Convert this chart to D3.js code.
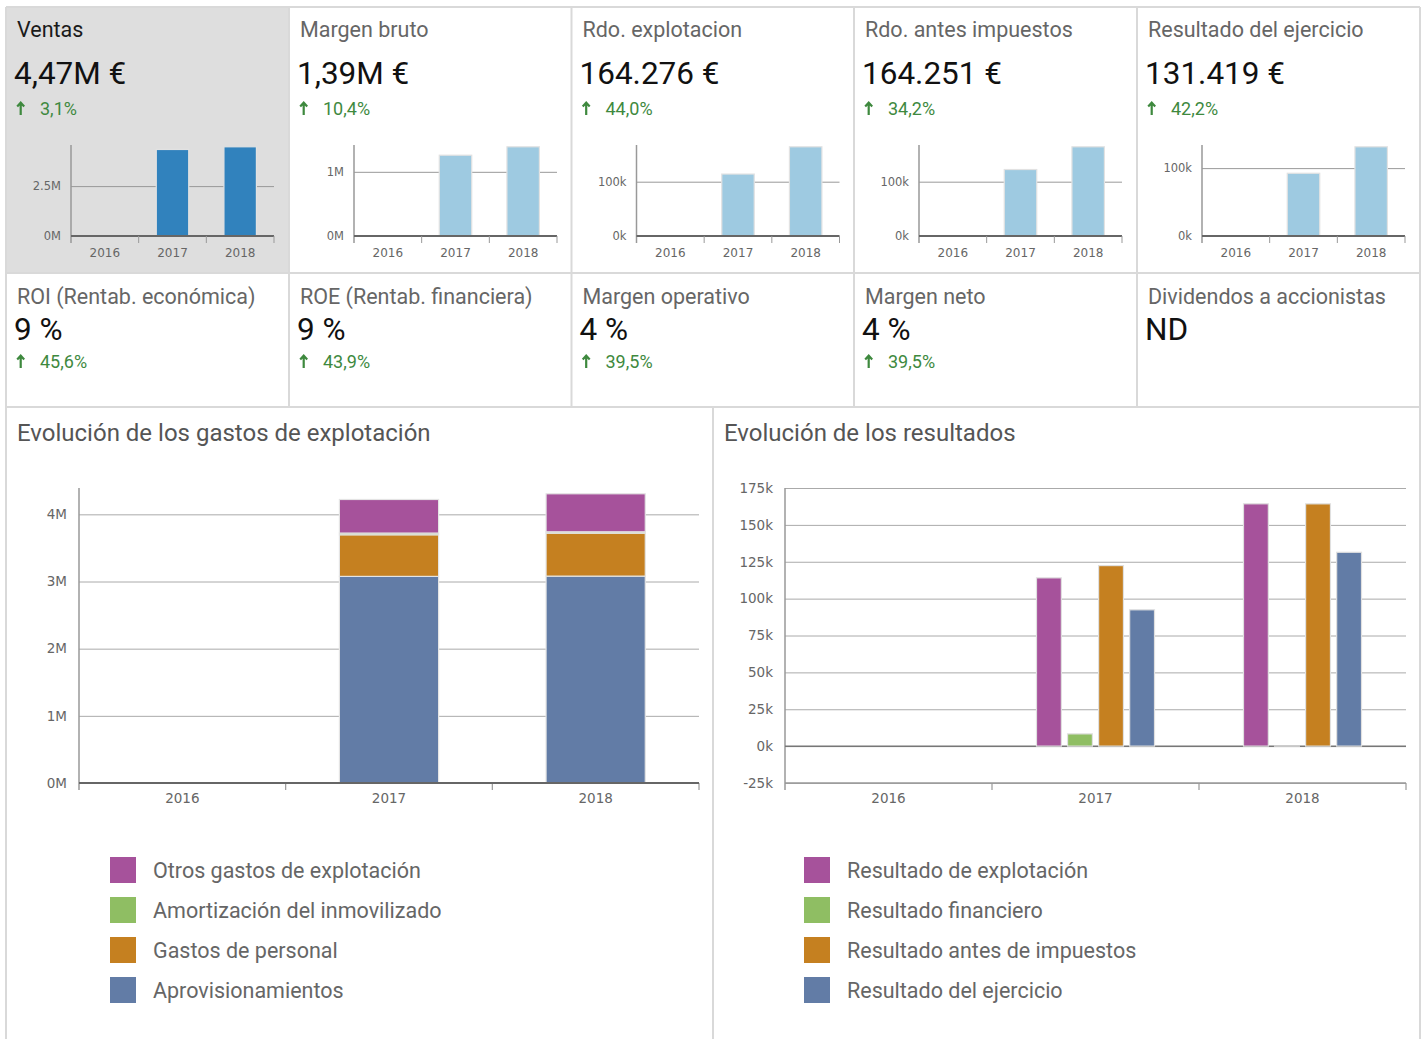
<!DOCTYPE html>
<html><head><meta charset="utf-8">
<script src="https://cdn.jsdelivr.net/npm/d3@7"></script>
<style>
html,body{margin:0;padding:0;background:#fff;}
svg{display:block;}
</style></head><body>
<svg id="c" width="1423" height="1039"></svg>
<script>
// ---------- DATA ----------
const years = ["2016", "2017", "2018"];

// KPI row 1 (with mini charts)
const kpiTitles1 = ["Ventas", "Margen bruto", "Rdo. explotacion", "Rdo. antes impuestos", "Resultado del ejercicio"];
const kpiValues1 = ["4,47M €", "1,39M €", "164.276 €", "164.251 €", "131.419 €"];
const kpiChanges1 = ["3,1%", "10,4%", "44,0%", "34,2%", "42,2%"];
const ventasSerie = [0, 4335000, 4470000];
const margenBrutoSerie = [0, 1259000, 1390000];
const rdoExplotacionSerie = [0, 114080, 164276];
const rdoAntesImpuestosSerie = [0, 122390, 164251];
const resultadoEjercicioSerie = [0, 92420, 131419];
const miniSeries = [ventasSerie, margenBrutoSerie, rdoExplotacionSerie, rdoAntesImpuestosSerie, resultadoEjercicioSerie];
const miniTickValues = [[0, 2500000], [0, 1000000], [0, 100000], [0, 100000], [0, 100000]];
const miniTickLabels = [["0M", "2.5M"], ["0M", "1M"], ["0k", "100k"], ["0k", "100k"], ["0k", "100k"]];

// KPI row 2
const kpiTitles2 = ["ROI (Rentab. económica)", "ROE (Rentab. financiera)", "Margen operativo", "Margen neto", "Dividendos a accionistas"];
const kpiValues2 = ["9 %", "9 %", "4 %", "4 %", "ND"];
const kpiChanges2 = ["45,6%", "43,9%", "39,5%", "39,5%", null];

// Gastos de explotación (stacked)
const gastosSeries = ["Aprovisionamientos", "Gastos de personal", "Amortización del inmovilizado", "Otros gastos de explotación"];
const aprovisionamientos = [0, 3076000, 3080000];
const gastosPersonal = [0, 620000, 640000];
const amortizacion = [0, 25000, 20000];
const otrosGastos = [0, 500000, 566000];
const gastosTickValues = [0, 1000000, 2000000, 3000000, 4000000];
const gastosTickLabels = ["0M", "1M", "2M", "3M", "4M"];

// Resultados (grouped)
const resultadosSeries = ["Resultado de explotación", "Resultado financiero", "Resultado antes de impuestos", "Resultado del ejercicio"];
const resultadoExplotacion = [0, 114080, 164276];
const resultadoFinanciero = [0, 8300, -25];
const resultadoAntesImpuestos = [0, 122390, 164251];
const resultadoEjercicio = [0, 92420, 131419];
const resultadosTickValues = [-25000, 0, 25000, 50000, 75000, 100000, 125000, 150000, 175000];
const resultadosTickLabels = ["-25k", "0k", "25k", "50k", "75k", "100k", "125k", "150k", "175k"];

// ---------- STYLE ----------
const colors = { purple: "#a6529b", green: "#8fbe63", orange: "#c58020", blue: "#627ca6" };
const gastosColors = [colors.blue, colors.orange, colors.green, colors.purple];
const resColors = [colors.purple, colors.green, colors.orange, colors.blue];
const FONT = "Roboto, 'Noto Sans', sans-serif";
const AXFONT = "'DejaVu Sans', sans-serif";
const borderCol = "#d9d9d9";
const GREEN = "#3e893e";

const svg = d3.select("#c");
const colX = [6, 289, 571.5, 854, 1137, 1420];
const rowY = [7, 273, 407];

// ---------- CARDS ----------
svg.append("rect").attr("x", colX[0]).attr("y", rowY[0]).attr("width", colX[1] - colX[0]).attr("height", rowY[1] - rowY[0]).attr("fill", "#dedede");

function drawChange(g, x, y, txt) {
  // arrow glyph
  g.append("path")
    .attr("d", `M${x + 3.7},${y} L${x + 3.7},${y - 12.5} M${x + 0.2},${y - 8.6} L${x + 3.7},${y - 12.3} L${x + 7.2},${y - 8.6}`)
    .attr("fill", "none").attr("stroke", GREEN).attr("stroke-width", 2.2).attr("stroke-linecap", "butt");
  g.append("text").attr("x", x + 23).attr("y", y).attr("font-family", FONT).attr("font-size", 18).attr("fill", GREEN).text(txt);
}

for (let i = 0; i < 5; i++) {
  const L = colX[i];
  const g = svg.append("g");
  g.append("text").attr("x", L + 11).attr("y", 37).attr("font-family", FONT).attr("font-size", 21.5)
    .attr("fill", i === 0 ? "#1a1a1a" : "#666").text(kpiTitles1[i]);
  g.append("text").attr("x", L + 8).attr("y", 84).attr("font-family", FONT).attr("font-size", 31.5)
    .attr("fill", "#111").text(kpiValues1[i]);
  drawChange(g, L + 11, 115, kpiChanges1[i]);

  // mini chart
  const data = miniSeries[i];
  const x = d3.scaleBand().domain(years).range([L + 65, L + 268]).paddingInner(0.52).paddingOuter(0.26);
  const y = d3.scaleLinear().domain([0, d3.max(data) * 1.02]).range([236, 145]);
  const x0 = L + 65, x1 = L + 268;
  const ax = g.append("g").attr("transform", `translate(${x0},0)`)
    .call(d3.axisLeft(y).tickValues(miniTickValues[i]).tickFormat((d, k) => miniTickLabels[i][k]).tickSize(-(x1 - x0)).tickPadding(10));
  ax.select(".domain").remove();
  ax.selectAll(".tick line").attr("stroke", "#999").attr("stroke-width", 1);
  ax.selectAll(".tick text").attr("font-family", AXFONT).attr("font-size", 11.5).attr("fill", "#666");
  g.append("line").attr("x1", x0).attr("x2", x0).attr("y1", y.range()[1]).attr("y2", y(0) + 7).attr("stroke", "#999").attr("stroke-width", 1.5);
  g.selectAll("rect.b").data(data).join("rect").attr("class", "b")
    .attr("x", (d, k) => x(years[k])).attr("width", x.bandwidth())
    .attr("y", d => y(Math.max(0, d))).attr("height", d => Math.abs(y(d) - y(0)))
    .attr("fill", i === 0 ? "#3182bd" : "#9ecae1").attr("stroke", "#e2e2e2").attr("stroke-width", 1.2);
  g.append("line").attr("x1", x0).attr("x2", x1).attr("y1", y(0)).attr("y2", y(0)).attr("stroke", "#666").attr("stroke-width", 2);
  years.forEach((yr, k) => {
    g.append("line").attr("x1", x0 + x.step() * (k + 1)).attr("x2", x0 + x.step() * (k + 1)).attr("y1", y(0)).attr("y2", y(0) + 7).attr("stroke", "#999");
  });
  const xa = g.append("g").attr("transform", `translate(0,${y(0) + 6})`).call(d3.axisBottom(x).tickSize(0).tickPadding(6));
  xa.select(".domain").remove();
  xa.selectAll("text").attr("font-family", AXFONT).attr("font-size", 12).attr("fill", "#666");
}

for (let i = 0; i < 5; i++) {
  const L = colX[i];
  const g = svg.append("g");
  g.append("text").attr("x", L + 11).attr("y", 304).attr("font-family", FONT).attr("font-size", 21.5).attr("fill", "#666").text(kpiTitles2[i]);
  g.append("text").attr("x", L + 8).attr("y", 340).attr("font-family", FONT).attr("font-size", 31.5).attr("fill", "#111").text(kpiValues2[i]);
  if (kpiChanges2[i]) drawChange(g, L + 11, 368, kpiChanges2[i]);
}

// card borders
const bg = svg.append("g").attr("stroke", borderCol).attr("stroke-width", 2).attr("fill", "none");
bg.append("line").attr("x1", colX[0]).attr("x2", colX[5]).attr("y1", rowY[0]).attr("y2", rowY[0]);
bg.append("line").attr("x1", colX[0]).attr("x2", colX[5]).attr("y1", rowY[1]).attr("y2", rowY[1]);
bg.append("line").attr("x1", colX[0]).attr("x2", colX[5]).attr("y1", rowY[2]).attr("y2", rowY[2]);
colX.forEach(cx => bg.append("line").attr("x1", cx).attr("x2", cx).attr("y1", rowY[0]).attr("y2", rowY[2]));
[6, 713, 1420].forEach(cx => bg.append("line").attr("x1", cx).attr("x2", cx).attr("y1", rowY[2]).attr("y2", 1039));

// ---------- PANEL TITLES ----------
svg.append("text").attr("x", 17).attr("y", 441).attr("font-family", FONT).attr("font-size", 24).attr("fill", "#555").text("Evolución de los gastos de explotación");
svg.append("text").attr("x", 724).attr("y", 441).attr("font-family", FONT).attr("font-size", 24).attr("fill", "#555").text("Evolución de los resultados");

// ---------- helper for big axes ----------
function bigAxes(g, x, y, x0, x1, tickVals, tickLabels, baseY) {
  const ax = g.append("g").attr("transform", `translate(${x0},0)`)
    .call(d3.axisLeft(y).tickValues(tickVals).tickFormat((d, k) => tickLabels[k]).tickSize(-(x1 - x0)).tickPadding(12));
  ax.select(".domain").remove();
  ax.selectAll(".tick line").attr("stroke", "#aaa").attr("stroke-width", 1);
  ax.selectAll(".tick text").attr("font-family", AXFONT).attr("font-size", 13.5).attr("fill", "#666");
  g.append("line").attr("x1", x0).attr("x2", x0).attr("y1", y.range()[1]).attr("y2", baseY + 7).attr("stroke", "#999").attr("stroke-width", 1.5);
  g.append("line").attr("x1", x0).attr("x2", x1).attr("y1", baseY).attr("y2", baseY).attr("stroke", "#999").attr("stroke-width", 1.5);
  years.forEach((yr, k) => {
    g.append("line").attr("x1", x0 + x.step() * (k + 1)).attr("x2", x0 + x.step() * (k + 1)).attr("y1", baseY).attr("y2", baseY + 7).attr("stroke", "#999").attr("stroke-width", 1.2);
  });
  const xa = g.append("g").attr("transform", `translate(0,${baseY + 4})`).call(d3.axisBottom(x).tickSize(0).tickPadding(6));
  xa.select(".domain").remove();
  xa.selectAll("text").attr("font-family", AXFONT).attr("font-size", 13.5).attr("fill", "#666");
}

// ---------- STACKED CHART ----------
{
  const g = svg.append("g");
  const x0 = 79, x1 = 699;
  const rows = years.map((yr, k) => ({ year: yr, "Aprovisionamientos": aprovisionamientos[k], "Gastos de personal": gastosPersonal[k], "Amortización del inmovilizado": amortizacion[k], "Otros gastos de explotación": otrosGastos[k] }));
  const stack = d3.stack().keys(gastosSeries)(rows);
  const maxTot = d3.max(stack[stack.length - 1], d => d[1]);
  const x = d3.scaleBand().domain(years).range([x0, x1]).paddingInner(0.52).paddingOuter(0.26);
  const y = d3.scaleLinear().domain([0, maxTot * 1.02]).range([783, 488]);
  bigAxes(g, x, y, x0, x1, gastosTickValues, gastosTickLabels, 783);
  stack.forEach((layer, li) => {
    g.selectAll(null).data(layer).join("rect")
      .attr("x", d => x(d.data.year)).attr("width", x.bandwidth())
      .attr("y", d => y(d[1])).attr("height", d => y(d[0]) - y(d[1]))
      .attr("fill", gastosColors[li]).attr("stroke", "#e4e4e4").attr("stroke-width", 1.2);
  });
  g.append("line").attr("x1", x0).attr("x2", x1).attr("y1", 783).attr("y2", 783).attr("stroke", "#666").attr("stroke-width", 2);
}

// ---------- GROUPED CHART ----------
{
  const g = svg.append("g");
  const x0 = 785, x1 = 1406;
  const vals = [resultadoExplotacion, resultadoFinanciero, resultadoAntesImpuestos, resultadoEjercicio];
  const x = d3.scaleBand().domain(years).range([x0, x1]).padding(0);
  const y = d3.scaleLinear().domain([-25000, 175000]).range([783, 488]);
  const inner = d3.scaleBand().domain(resultadosSeries).range([x.bandwidth() * 0.215, x.bandwidth() * 0.785]).paddingInner(0.2);
  bigAxes(g, x, y, x0, x1, resultadosTickValues, resultadosTickLabels, 783);
  g.append("line").attr("x1", x0).attr("x2", x1).attr("y1", y(0)).attr("y2", y(0)).attr("stroke", "#777").attr("stroke-width", 1.5);
  resultadosSeries.forEach((s, si) => {
    g.selectAll(null).data(vals[si]).join("rect")
      .attr("x", (d, k) => x(years[k]) + inner(s)).attr("width", inner.bandwidth())
      .attr("y", d => y(Math.max(0, d))).attr("height", d => Math.abs(y(d) - y(0)))
      .attr("fill", resColors[si]).attr("stroke", "#e0e0e0").attr("stroke-width", 1.2);
  });
}

// ---------- LEGENDS ----------
function legend(xSq, labels, cols) {
  labels.forEach((lab, k) => {
    const cy = 870 + k * 40;
    svg.append("rect").attr("x", xSq).attr("y", cy - 13).attr("width", 26).attr("height", 26).attr("fill", cols[k]);
    svg.append("text").attr("x", xSq + 43).attr("y", cy + 7.5).attr("font-family", FONT).attr("font-size", 21.5).attr("fill", "#666").text(lab);
  });
}
legend(110, gastosSeries.slice().reverse(), gastosColors.slice().reverse());
legend(804, resultadosSeries, resColors);
</script>
</body></html>
